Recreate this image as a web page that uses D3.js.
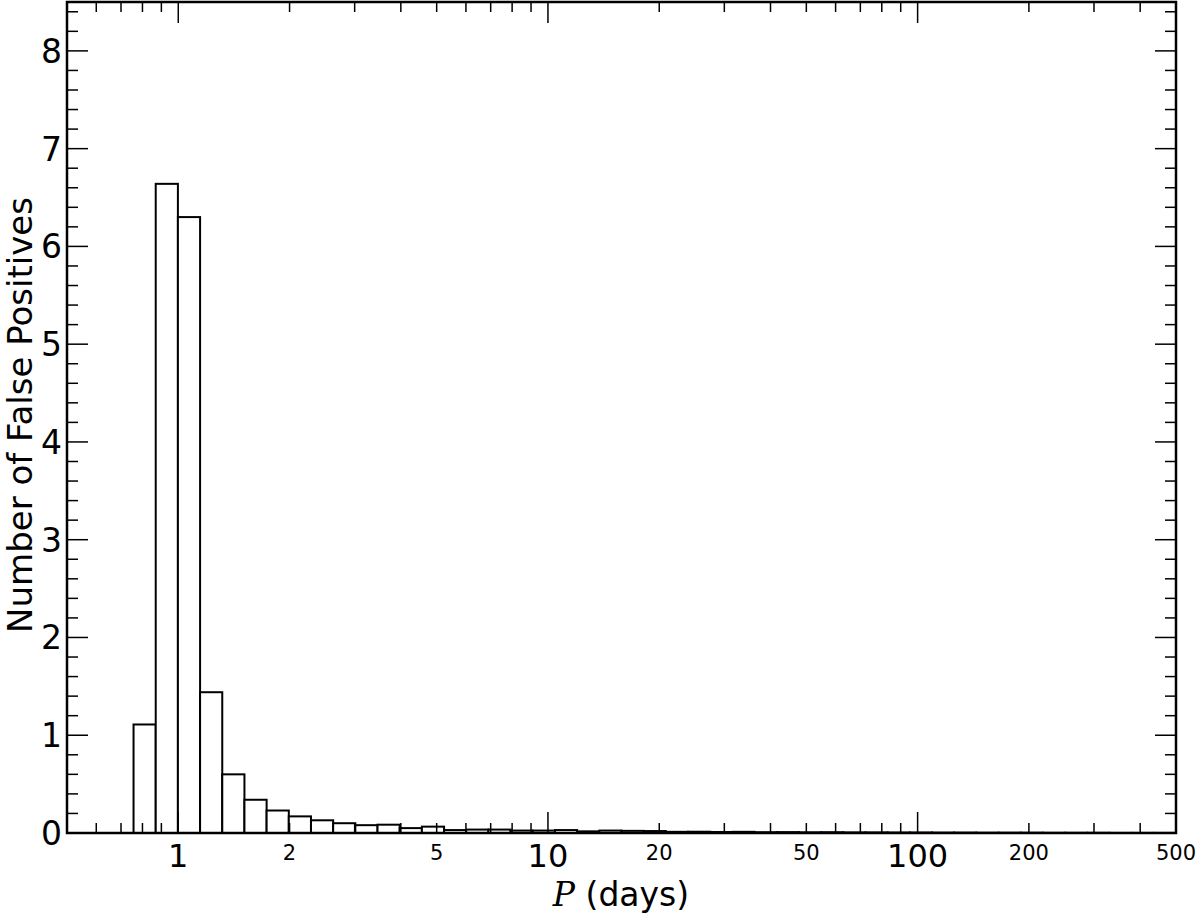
<!DOCTYPE html>
<html>
<head>
<meta charset="utf-8">
<script src="https://cdn.jsdelivr.net/npm/d3@7"></script>
<style>
  html, body { margin: 0; padding: 0; background: #fff; }
  svg { display: block; }
  text { font-family: "DejaVu Sans", sans-serif; fill: #000; }
</style>
</head>
<body>
<svg id="chart" width="1200" height="915"></svg>
<script>
// ---- data ----
const periodRange = [0.5, 500];          // x-axis range in days (log)
const binCount = 50;                     // log-uniform bins across the range
const firstBin = 3;                      // index of first non-empty bin
const counts = [
  1.11, 6.64, 6.30, 1.44, 0.60, 0.34, 0.23, 0.17, 0.13, 0.10,
  0.08, 0.085, 0.05, 0.065, 0.03, 0.035, 0.035, 0.025, 0.025, 0.03,
  0.017, 0.025, 0.022, 0.02, 0.012, 0.013, 0.01, 0.012, 0.008, 0.009,
  0.007, 0.008, 0.006, 0.006, 0.005, 0.005, 0.004, 0.004, 0.003, 0.003,
  0.003, 0.002, 0.002, 0.002, 0.001, 0.001, 0.001
];
const xMajorTicks = [1, 10, 100];
const xMinorLabelled = [2, 5, 20, 50, 200, 500];
const yTicks = [0, 1, 2, 3, 4, 5, 6, 7, 8];
const yMax = 8.5;
const xLabelItalic = "P";
const xLabelRest = " (days)";
const yLabel = "Number of False Positives";

// ---- layout ----
const L = 67, R = 1176, T = 2, B = 833;
const svg = d3.select("#chart");

const x = d3.scaleLog().domain(periodRange).range([L, R]);
const y = d3.scaleLinear().domain([0, yMax]).range([B, T]);

// bin edges (log-uniform)
const logStep = (Math.log10(periodRange[1]) - Math.log10(periodRange[0])) / binCount;
const edge = k => periodRange[0] * Math.pow(10, k * logStep);
const bars = counts.map((c, i) => ({ lo: edge(firstBin + i), hi: edge(firstBin + i + 1), v: c }));

// bars
svg.append("g").selectAll("rect").data(bars).join("rect")
  .attr("x", d => x(d.lo))
  .attr("y", d => y(d.v))
  .attr("width", d => x(d.hi) - x(d.lo))
  .attr("height", d => B - y(d.v))
  .attr("fill", "#fff")
  .attr("stroke", "#000")
  .attr("stroke-width", 2);

// minor x ticks (2..9 per decade)
const xMinor = [];
for (let dec = 0.1; dec <= 100; dec *= 10) {
  for (let m = 1; m <= 9; m++) {
    const v = +(m * dec).toPrecision(3);
    if (v > periodRange[0] && v < periodRange[1] && !xMajorTicks.includes(v)) xMinor.push(v);
  }
}
const majorLen = 21, minorLen = 10;
const tickG = svg.append("g").attr("stroke", "#000").attr("stroke-width", 1.5);

// bottom & top ticks
xMajorTicks.forEach(v => {
  tickG.append("line").attr("x1", x(v)).attr("x2", x(v)).attr("y1", B).attr("y2", B - majorLen);
  tickG.append("line").attr("x1", x(v)).attr("x2", x(v)).attr("y1", T).attr("y2", T + majorLen);
});
xMinor.forEach(v => {
  tickG.append("line").attr("x1", x(v)).attr("x2", x(v)).attr("y1", B).attr("y2", B - minorLen);
  tickG.append("line").attr("x1", x(v)).attr("x2", x(v)).attr("y1", T).attr("y2", T + minorLen);
});

// y ticks
const yMinor = d3.range(0, yMax, 0.2).map(v => +v.toFixed(1)).filter(v => Math.abs(v - Math.round(v)) > 1e-6);
yTicks.forEach(v => {
  tickG.append("line").attr("x1", L).attr("x2", L + majorLen).attr("y1", y(v)).attr("y2", y(v));
  tickG.append("line").attr("x1", R).attr("x2", R - majorLen).attr("y1", y(v)).attr("y2", y(v));
});
yMinor.forEach(v => {
  tickG.append("line").attr("x1", L).attr("x2", L + minorLen + 1).attr("y1", y(v)).attr("y2", y(v));
  tickG.append("line").attr("x1", R).attr("x2", R - minorLen - 1).attr("y1", y(v)).attr("y2", y(v));
});

// frame
svg.append("rect").attr("x", L).attr("y", T).attr("width", R - L).attr("height", B - T)
  .attr("fill", "none").attr("stroke", "#000").attr("stroke-width", 2.5);

// x tick labels
svg.append("g").selectAll("text").data(xMajorTicks).join("text")
  .attr("x", d => x(d)).attr("y", 867)
  .attr("text-anchor", "middle").attr("font-size", 32)
  .text(d => d3.format("d")(d));
svg.append("g").selectAll("text").data(xMinorLabelled).join("text")
  .attr("x", d => x(d)).attr("y", 860)
  .attr("text-anchor", "middle").attr("font-size", 21)
  .text(d => d3.format("d")(d));

// y tick labels
svg.append("g").selectAll("text").data(yTicks).join("text")
  .attr("x", 62).attr("y", d => y(d) + 12)
  .attr("text-anchor", "end").attr("font-size", 33)
  .text(d => d);

// x label
const xl = svg.append("text").attr("x", 621).attr("y", 906).attr("text-anchor", "middle").attr("font-size", 33);
xl.append("tspan").attr("font-family", "'DejaVu Serif', serif").attr("font-style", "italic").text(xLabelItalic);
xl.append("tspan").text(xLabelRest);

// y label
svg.append("text")
  .attr("transform", "translate(32,415) rotate(-90)")
  .attr("text-anchor", "middle").attr("font-size", 34)
  .text(yLabel);
</script>
</body>
</html>
